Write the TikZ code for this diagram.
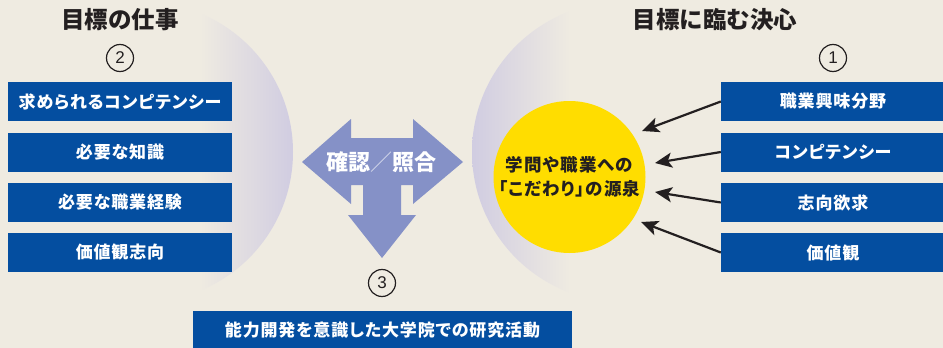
\documentclass[tikz,border=0pt]{standalone}
\usepackage{fontspec}
\usetikzlibrary{arrows.meta}
\setsansfont{Liberation Sans}
\newfontfamily\jpsp{Noto Sans CJK JP}[LetterSpace=5,RawFeature=+palt]
\newfontfamily\jp{Noto Sans CJK JP}
\newfontfamily\jppl{Noto Sans CJK JP}[RawFeature=+palt,LetterSpace=6]
\definecolor{bgc}{HTML}{EFEBE1}
\definecolor{lav}{HTML}{D0CCE1}
\definecolor{boxblue}{HTML}{044EA0}
\definecolor{yel}{HTML}{FFDD00}
\definecolor{arrowc}{HTML}{8591C7}
\definecolor{dark}{HTML}{231F20}
\begin{document}
\begin{tikzpicture}[x=1pt,y=-1pt,
  box/.style={fill=boxblue, text=white, minimum height=39pt, inner sep=0pt,
    font=\jpsp\bfseries\fontsize{17}{17}\selectfont},
  lbox/.style={box, minimum width=224pt},
  numc/.style={circle, draw=dark, line width=1.2pt, minimum size=27pt, inner sep=0pt,
    font=\sffamily\fontsize{17}{17}\selectfont, text=dark},
  feed/.style={draw=dark, line width=2.2pt, -{Stealth[length=17pt,width=15pt,inset=4pt]}},
  title/.style={font=\jp\bfseries\fontsize{23.5}{23.5}\selectfont, text=dark, inner sep=0pt}
]
\useasboundingbox[fill=bgc] (0,0) rectangle (943,348);
% lenses
\begin{scope}
  \clip (143,152) circle[radius=150pt];
  \shade[left color=bgc, right color=lav] (200,0) rectangle (294,310);
\end{scope}
\begin{scope}
  \clip (622,152) circle[radius=150pt];
  \shade[left color=lav, right color=bgc] (471,0) rectangle (570,310);
\end{scope}
% titles
\node[title] (tl) at (120,20) {目標の仕事};
\node[title] (tr) at (715,20) {目標に臨む決心};
% numbers
\node[numc] (n2) at (120,58) {2};
\node[numc] (n1) at (833,58) {1};
\node[numc] (n3) at (382,283) {3};
% left boxes
\node[lbox] (l1) at (120,101.5) {求められるコンピテンシー};
\node[lbox] (l2) at (120,152) {必要な知識};
\node[lbox] (l3) at (120,202.5) {必要な職業経験};
\node[lbox] (l4) at (120,252.5) {価値観志向};
% right boxes
\node[lbox] (r1) at (833,101.5) {職業興味分野};
\node[lbox] (r2) at (833,152) {コンピテンシー};
\node[lbox] (r3) at (833,202.5) {志向欲求};
\node[lbox] (r4) at (833,252.5) {価値観};
% bottom box
\node[box, minimum width=379pt] (bot) at (382.5,330.5) {能力開発を意識した大学院での研究活動};
% three-way arrow
\fill[arrowc] (302,162) -- (351,119) -- (351,138) -- (413,138) -- (413,119) -- (463,162)
  -- (413,204) -- (413,185) -- (401,185) -- (401,215) -- (416,215) -- (382,258)
  -- (348,215) -- (363,215) -- (363,185) -- (351,185) -- (351,204) -- cycle;
\node[font=\jp\bfseries\fontsize{22}{22}\selectfont, text=white, inner sep=0pt] (ck) at (381,162)
  {確認{\mdseries\color{white!65!arrowc}／}照合};
% yellow circle
\node[circle, fill=yel, minimum size=152pt, inner sep=0pt, align=center, text=dark,
  font=\jppl\bfseries\fontsize{17.5}{24}\selectfont] (src) at (569.5,177)
  {学問や職業への\\「こだわり」の源泉};
% feeding arrows
\coordinate (t1) at (642,131);
\coordinate (t2) at (655,163);
\coordinate (t3) at (655,192);
\coordinate (t4) at (641,222);
\draw[feed] (r1.west) -- (t1);
\draw[feed] (r2.west) -- (t2);
\draw[feed] (r3.west) -- (t3);
\draw[feed] (r4.west) -- (t4);
\end{tikzpicture}
\end{document}
